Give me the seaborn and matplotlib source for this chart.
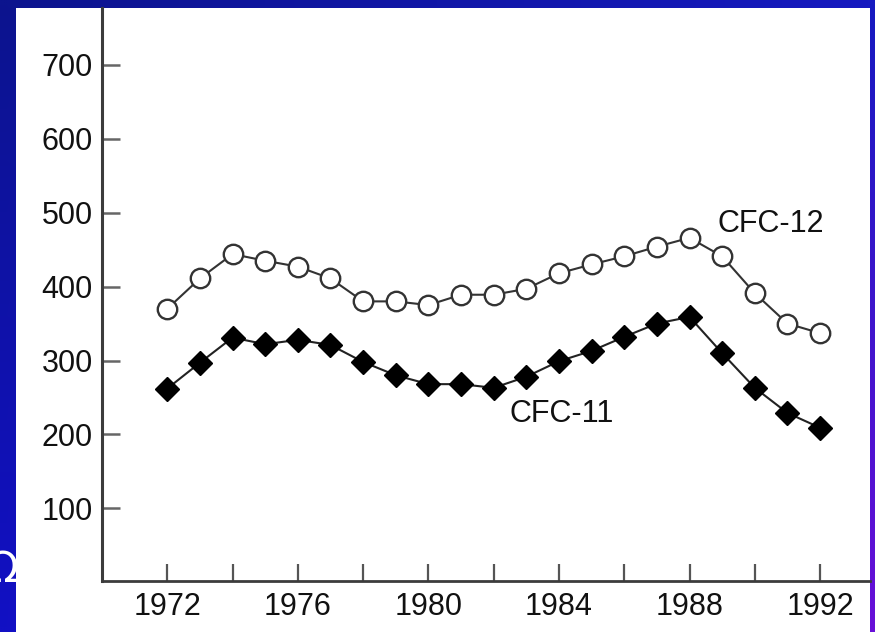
import numpy as np
import matplotlib
matplotlib.use("Agg")
import matplotlib.pyplot as plt
import seaborn as sns
from matplotlib.patches import Rectangle

# Annual values (ppt-scale index) for the two chlorofluorocarbons
years = list(range(1972, 1993))
cfc11 = [262, 297, 331, 322, 328, 321, 298, 280, 268, 268, 263, 278,
         299, 313, 332, 350, 359, 310, 263, 229, 209]
cfc12 = [370, 411, 444, 435, 427, 411, 380, 380, 375, 389, 389, 397,
         418, 430, 441, 454, 466, 441, 391, 350, 337]
series_names = ["CFC-11", "CFC-12"]

year_ticks = list(range(1972, 1993, 2))
year_labels = [str(y) if (y - 1972) % 4 == 0 else "" for y in year_ticks]
value_ticks = [100, 200, 300, 400, 500, 600, 700]

sns.set_theme(style="white")
plt.rcParams["font.family"] = ["Liberation Sans", "DejaVu Sans"]

W, H = 875, 632
fig = plt.figure(figsize=(W / 100, H / 100), dpi=100)

# slide background: blue to violet gradient
bg = fig.add_axes([0, 0, 1, 1], zorder=-10)
n = 64
u = np.linspace(0, 1, n)[None, :, None]
v = np.linspace(0, 1, n)[:, None, None]
tl = np.array([12, 20, 142])
tr = np.array([22, 26, 192])
bl = np.array([18, 16, 196])
br = np.array([104, 16, 216])
img = ((1 - u) * (1 - v) * tl + u * (1 - v) * tr
       + (1 - u) * v * bl + u * v * br) / 255.0
bg.imshow(img, aspect="auto", extent=[0, 1, 0, 1], origin="upper",
          interpolation="bilinear")
bg.axis("off")

# glyph peeking out on the slide margin
fig.text(2 / W, (H - 582) / H, "Ω", color="white", fontsize=30,
         ha="center", va="baseline", zorder=-7, family="DejaVu Sans")

# white card holding the chart
fig.patches.append(Rectangle((16 / W, 0), (870 - 16) / W, (H - 8) / H,
                             transform=fig.transFigure, facecolor="white",
                             edgecolor="none", zorder=-5))

ax = fig.add_axes([102 / W, (H - 580.5) / H, (870 - 102) / W, (580.5 - 8) / H])
ax.patch.set_alpha(0)

sns.lineplot(x=years, y=cfc12, ax=ax, color="#333333", linewidth=1.5,
             marker="o", markersize=14, markerfacecolor="white",
             markeredgecolor="#333333", markeredgewidth=1.7)
sns.lineplot(x=years, y=cfc11, ax=ax, color="#222222", linewidth=1.5,
             marker="D", markersize=12, markerfacecolor="black",
             markeredgecolor="black", markeredgewidth=1)

ax.text(1988.85, 485, series_names[1], fontsize=22, color="#111111",
        ha="left", va="center")
ax.text(1982.5, 227, series_names[0], fontsize=22, color="#111111",
        ha="left", va="center")

ax.set_xlim(1970, 1993.53)
ax.set_ylim(2.3, 777)
ax.set_xticks(year_ticks, year_labels)
ax.set_yticks(value_ticks)
ax.set_xlabel("")
ax.set_ylabel("")

for side in ("top", "right"):
    ax.spines[side].set_visible(False)
ax.spines["left"].set_color("#3c3c3c")
ax.spines["left"].set_linewidth(2.2)
ax.spines["bottom"].set_color("#3c3c3c")
ax.spines["bottom"].set_linewidth(2.0)

ax.tick_params(axis="y", direction="in", length=13, width=1.8,
               color="#666666", labelsize=22, labelcolor="#111111", pad=6.5,
               left=True)
ax.tick_params(axis="x", direction="in", length=12, width=1.6,
               color="#555555", labelsize=22, labelcolor="#111111", pad=8,
               bottom=True)

fig.savefig("out.png", dpi=100)
